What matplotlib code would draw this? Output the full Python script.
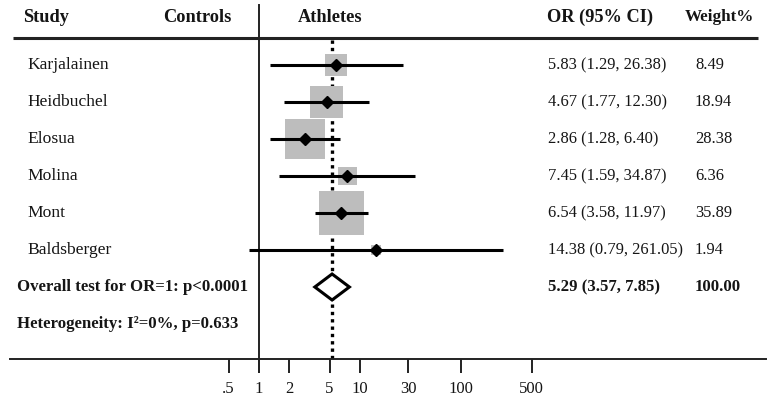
import numpy as np
import matplotlib
matplotlib.use("Agg")
import matplotlib.pyplot as plt
from matplotlib.patches import Rectangle, Polygon
from matplotlib.transforms import blended_transform_factory

plt.rcParams['font.family'] = ['Liberation Serif', 'DejaVu Serif']

studies = ["Karjalainen", "Heidbuchel", "Elosua", "Molina", "Mont", "Baldsberger"]
or_vals = [5.83, 4.67, 2.86, 7.45, 6.54, 14.38]
ci_low = [1.29, 1.77, 1.28, 1.59, 3.58, 0.79]
ci_high = [26.38, 12.30, 6.40, 34.87, 11.97, 261.05]
weights = [8.49, 18.94, 28.38, 6.36, 35.89, 1.94]
overall_or = 5.29
overall_low = 3.57
overall_high = 7.85
overall_weight = 100.00
tick_vals = [0.5, 1, 2, 5, 10, 30, 100, 500]
tick_labels = [".5", "1", "2", "5", "10", "30", "100", "500"]

W, H = 770, 400
fig = plt.figure(figsize=(W / 100, H / 100), dpi=100)
ax = fig.add_axes([0, 0, 1, 1])
ax.set_xscale('log')

px_per_dec = 101.0
x_one = 259.0
ax.set_xlim(10 ** (-x_one / px_per_dec), 10 ** ((W - x_one) / px_per_dec))
row0 = 65.0
row_h = 37.0
ax.set_ylim((H - row0) / row_h, -row0 / row_h)

def prow(py):
    return (py - row0) / row_h

def px2log(px):
    return 10 ** ((px - x_one) / px_per_dec)

tx = blended_transform_factory(fig.transFigure, ax.transData)
fs_head = 13.2
fs_name = 12.6
fs_val = 11.9
fs_bold = 12.1
tcol = '#151515'

# headers
hy = prow(17)
for xp, lab in [(23, "Study"), (163, "Controls"), (298, "Athletes"), (547, "OR (95% CI)")]:
    ax.text(xp / W, hy, lab, transform=tx, fontsize=fs_head, fontweight='bold',
            va='center', ha='left', color=tcol)
ax.text(685 / W, hy, "Weight%", transform=tx, fontsize=12.3, fontweight='bold',
        va='center', ha='left', color=tcol)

ax.plot([px2log(13), px2log(758)], [prow(38), prow(38)], color='#222222', lw=2.2, solid_capstyle='butt')

# reference lines
ax.plot([1, 1], [prow(5), prow(372)], color='#222222', lw=1.4)
ax.plot([overall_or, overall_or], [prow(40), prow(359)], color='black', lw=2.4,
        linestyle=(0, (1.0, 1.2)))

# studies
for i, (s, o, lo, hi, w) in enumerate(zip(studies, or_vals, ci_low, ci_high, weights)):
    y = i
    side = 7.5 * np.sqrt(w)
    half_dec = side / 2 / px_per_dec
    half_row = side / 2 / row_h
    lo_o = np.log10(o)
    ax.add_patch(Rectangle((10 ** (lo_o - half_dec), y - half_row),
                           10 ** (lo_o + half_dec) - 10 ** (lo_o - half_dec), 2 * half_row,
                           facecolor='#bdbdbd', edgecolor='none', zorder=2))
    ax.plot([lo, hi], [y, y], color='black', lw=2.2, zorder=3, solid_capstyle='butt')
    ax.plot([o], [y], marker='D', color='black', markersize=6.5, zorder=4)
    ax.text(27 / W, y, s, transform=tx, fontsize=fs_name, va='center', ha='left', color=tcol)
    ax.text(548 / W, y, f"{o:.2f} ({lo:.2f}, {hi:.2f})", transform=tx, fontsize=fs_val,
            va='center', ha='left', color=tcol)
    ax.text(695 / W, y, f"{w:.2f}", transform=tx, fontsize=fs_val, va='center', ha='left', color=tcol)

# overall
yo = len(studies)
dh = 13 / row_h
diamond = Polygon([[overall_low, yo], [overall_or, yo - dh], [overall_high, yo], [overall_or, yo + dh]],
                  closed=True, facecolor='white', edgecolor='black', lw=2.2, zorder=5, joinstyle='miter')
ax.add_patch(diamond)
ax.text(17 / W, yo, "Overall test for OR=1: p<0.0001", transform=tx, fontsize=fs_bold,
        fontweight='bold', va='center', ha='left', color=tcol)
ax.text(548 / W, yo, f"{overall_or:.2f} ({overall_low:.2f}, {overall_high:.2f})", transform=tx,
        fontsize=fs_bold, fontweight='bold', va='center', ha='left', color=tcol)
ax.text(695 / W, yo, f"{overall_weight:.2f}", transform=tx, fontsize=fs_bold, fontweight='bold',
        va='center', ha='left', color=tcol)
ax.text(17 / W, yo + 1, "Heterogeneity: I²=0%, p=0.633", transform=tx, fontsize=fs_bold,
        fontweight='bold', va='center', ha='left', color=tcol)

# x axis
for sp in ['top', 'right', 'left']:
    ax.spines[sp].set_visible(False)
ax.spines['bottom'].set_position(('data', prow(359)))
ax.spines['bottom'].set_bounds(px2log(10), px2log(766))
ax.spines['bottom'].set_linewidth(1.4)
ax.spines['bottom'].set_color('#222222')
ax.set_xticks(tick_vals)
ax.set_xticklabels(tick_labels)
ax.xaxis.set_minor_locator(matplotlib.ticker.NullLocator())
ax.tick_params(axis='x', direction='out', length=10, width=1.4, color='#222222',
               labelsize=12, pad=6, labelcolor=tcol)
ax.set_yticks([])

fig.savefig("out.png", dpi=100)
